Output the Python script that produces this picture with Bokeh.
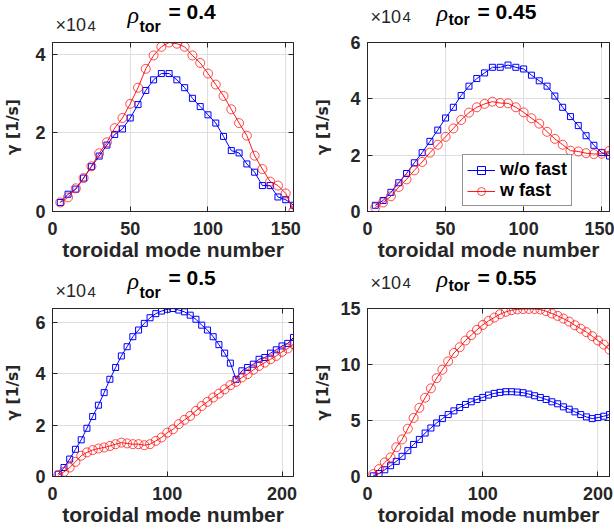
from bokeh.plotting import figure
from bokeh.models import Range1d, FixedTicker, LinearAxis, Label, Legend, LegendItem
from bokeh.layouts import row, column
from bokeh.embed import file_html
from bokeh.resources import INLINE

# toroidal mode numbers
n_top = [5, 10, 15, 20, 25, 30, 35, 40, 45, 50, 55, 60, 65, 70, 75, 80, 85, 90, 95, 100,
         105, 110, 115, 120, 125, 130, 135, 140, 145, 150, 155]
n_bot = [5, 10, 15, 20, 25, 30, 35, 40, 45, 50, 55, 60, 65, 70, 75, 80, 85, 90, 95, 100,
         105, 110, 115, 120, 125, 130, 135, 140, 145, 150, 155, 160, 165, 170, 175, 180,
         185, 190, 195, 200, 205, 210]

# growth rates in units of 1e4 1/s
g04_wo = [0.23, 0.44, 0.57, 0.85, 1.14, 1.41, 1.69, 1.96, 2.10, 2.38, 2.72, 3.08, 3.35, 3.51,
          3.51, 3.35, 3.15, 2.88, 2.67, 2.46, 2.25, 1.91, 1.55, 1.49, 1.21, 1.00, 0.66, 0.66,
          0.37, 0.30, 0.16]
g04_w = [0.23, 0.36, 0.59, 0.85, 1.15, 1.48, 1.76, 2.12, 2.38, 2.74, 3.15, 3.63, 3.97, 4.19,
         4.30, 4.27, 4.19, 3.97, 3.78, 3.51, 3.23, 2.94, 2.60, 2.25, 1.93, 1.42, 1.08, 0.76,
         0.66, 0.46, 0.02]
g045_wo = [0.22, 0.39, 0.68, 1.02, 1.35, 1.73, 2.09, 2.49, 2.89, 3.32, 3.70, 4.12, 4.45, 4.72,
           4.92, 5.12, 5.12, 5.20, 5.12, 5.06, 4.84, 4.64, 4.45, 4.10, 3.70, 3.37, 3.05, 2.69,
           2.35, 2.09, 1.97]
g045_w = [0.14, 0.32, 0.54, 0.87, 1.14, 1.46, 1.76, 2.09, 2.37, 2.65, 2.95, 3.25, 3.51, 3.70,
          3.82, 3.90, 3.85, 3.84, 3.70, 3.52, 3.31, 3.12, 2.83, 2.58, 2.37, 2.16, 2.13, 2.07,
          2.04, 2.05, 2.15]
g05_wo = [0.09, 0.35, 0.68, 1.06, 1.43, 1.88, 2.34, 2.78, 3.27, 3.79, 4.25, 4.70, 5.06, 5.45,
          5.71, 5.97, 6.19, 6.35, 6.45, 6.52, 6.55, 6.49, 6.42, 6.29, 6.13, 5.90, 5.71, 5.45,
          5.14, 4.81, 4.42, 3.79, 4.12, 4.25, 4.38, 4.57, 4.64, 4.81, 4.94, 5.09, 5.19, 5.42]
g05_w = [0.05, 0.18, 0.35, 0.57, 0.81, 0.94, 1.03, 1.09, 1.13, 1.19, 1.26, 1.32, 1.29, 1.26,
         1.26, 1.22, 1.26, 1.39, 1.52, 1.71, 1.84, 2.04, 2.21, 2.36, 2.56, 2.75, 2.91, 3.08,
         3.23, 3.40, 3.56, 3.69, 3.86, 3.99, 4.16, 4.31, 4.44, 4.57, 4.70, 4.86, 4.99, 5.16]
g055_wo = [0.06, 0.27, 0.60, 0.96, 1.35, 1.80, 2.31, 2.86, 3.31, 3.88, 4.33, 4.78, 5.17, 5.53,
           5.86, 6.16, 6.43, 6.67, 6.88, 7.06, 7.27, 7.42, 7.51, 7.57, 7.57, 7.54, 7.48, 7.36,
           7.21, 7.06, 6.88, 6.67, 6.49, 6.22, 6.01, 5.77, 5.53, 5.32, 5.17, 5.26, 5.38, 5.53]
g055_w = [0.21, 0.66, 1.26, 1.71, 2.61, 3.31, 4.27, 5.23, 6.13, 7.03, 7.87, 8.78, 9.53, 10.28,
          11.03, 11.54, 12.14, 12.62, 13.10, 13.53, 13.89, 14.19, 14.49, 14.70, 14.85, 14.92,
          14.95, 14.96, 14.95, 14.91, 14.76, 14.55, 14.34, 14.10, 13.83, 13.50, 13.20, 12.89,
          12.53, 12.14, 11.78, 11.33]

x_ticks_top = [0, 50, 100, 150]
x_ticks_bot = [0, 100, 200]
y_ticks_04 = [0, 2, 4]
y_ticks_045 = [0, 2, 4, 6]
y_ticks_05 = [0, 2, 4, 6]
y_ticks_055 = [0, 5, 10, 15]

rho_labels = ["0.4", "0.45", "0.5", "0.55"]
series_names = ["w/o fast", "w fast"]
x_title = "toroidal mode number"
y_title = "γ [1/s]"

FONT = "Liberation Sans"
AX = "#262626"
BLUE = "#0000ff"
RED = "#ff0000"
QW = 307          # quadrant width

# header text baselines (px above the frame top): rho, "tor", "= ..", "x10", "4"
BASE_LEFT = (15, 8, 20, 7.5, 11.5)
BASE_RIGHT = (17, 15, 20, 15.5, 20.5)


def header(height, left, right):
    # frame spans the same columns as the plot below; data units == pixels of the quadrant
    f = figure(width=QW, height=height, output_backend="svg", toolbar_location=None,
               x_range=Range1d(left, QW - right), y_range=Range1d(0, height),
               min_border_left=left, min_border_right=right,
               min_border_top=0, min_border_bottom=0,
               x_axis_location=None, y_axis_location=None)
    f.grid.visible = False
    f.outline_line_color = None
    f.background_fill_color = "white"
    f.border_fill_color = "white"
    return f


def style_axis(ax, ticks, standoff):
    ax.ticker = FixedTicker(ticks=ticks)
    ax.major_tick_in = 5
    ax.major_tick_out = 0
    ax.minor_tick_in = 0
    ax.minor_tick_out = 0
    ax.axis_line_color = AX
    ax.major_tick_line_color = AX
    ax.major_label_text_font = FONT
    ax.major_label_text_font_style = "bold"
    ax.major_label_text_font_size = "18px"
    ax.major_label_text_color = AX
    ax.major_label_standoff = standoff


def quadrant(x, wo, w, xmax, ymax, xt, yt, rho, qh, frame_top, left, right, bottom,
             rho_x, pad, bases, ylab_standoff, legend=False):
    head_h = frame_top - pad
    body_h = qh - head_h
    b_rho, b_tor, b_eq, b_x10, b_4 = bases

    h = header(head_h, left, right)
    h.add_layout(Label(x=rho_x, y=b_rho - pad, text="ρ", text_font="Liberation Serif",
                       text_font_style="italic", text_font_size="24px", text_color="black"))
    h.add_layout(Label(x=rho_x + 12, y=b_tor - pad, text="tor", text_font=FONT,
                       text_font_style="bold", text_font_size="16px", text_color="black"))
    h.add_layout(Label(x=rho_x + 41, y=b_eq - pad, text="= " + rho, text_font=FONT,
                       text_font_style="bold", text_font_size="21px", text_color="black"))
    h.add_layout(Label(x=left + 3, y=b_x10 - pad, text="×10", text_font=FONT,
                       text_font_size="18px", text_color=AX))
    h.add_layout(Label(x=left + 35, y=b_4 - pad, text="4", text_font=FONT,
                       text_font_size="15px", text_color=AX))

    p = figure(width=QW, height=body_h, output_backend="svg", toolbar_location=None,
               x_range=Range1d(0, xmax), y_range=Range1d(0, ymax),
               min_border_left=left, min_border_right=right,
               min_border_top=pad, min_border_bottom=bottom,
               x_axis_label=x_title, y_axis_label=y_title)
    p.background_fill_color = "white"
    p.border_fill_color = "white"
    p.outline_line_color = AX
    style_axis(p.xaxis[0], xt, 10)
    style_axis(p.yaxis[0], yt, 7)
    xa = p.xaxis[0]
    xa.axis_label_text_font = FONT
    xa.axis_label_text_font_style = "bold"
    xa.axis_label_text_color = AX
    xa.axis_label_text_font_size = "21px"
    xa.axis_label_standoff = 0
    ya = p.yaxis[0]
    ya.axis_label_text_font = "DejaVu Sans"
    ya.axis_label_text_font_style = "bold"
    ya.axis_label_text_color = AX
    ya.axis_label_text_font_size = "15.5px"
    ya.axis_label_standoff = ylab_standoff

    for loc, ticks in (("right", yt), ("above", xt)):
        a = LinearAxis()
        style_axis(a, ticks, 0)
        a.major_label_overrides = {t: "" for t in ticks}
        a.major_label_text_font_size = "0px"
        p.add_layout(a, loc)

    p.xgrid.ticker = FixedTicker(ticks=xt)
    p.ygrid.ticker = FixedTicker(ticks=yt)
    p.xgrid.grid_line_color = "#dedede"
    p.ygrid.grid_line_color = "#dedede"

    l1 = p.line(x, wo, line_color=BLUE, line_width=1)
    s1 = p.scatter(x, wo, marker="square", size=6, line_color=BLUE, fill_color=None,
                   line_width=1)
    l2 = p.line(x, w, line_color=RED, line_width=1, line_alpha=0.9)
    s2 = p.scatter(x, w, marker="circle", size=9, line_color=RED, fill_color=None,
                   line_width=1, line_alpha=0.7)

    if legend:
        lg = Legend(items=[LegendItem(label=series_names[0], renderers=[l1, s1]),
                           LegendItem(label=series_names[1], renderers=[l2, s2])],
                    location=(95, 5), border_line_color=AX, border_line_width=1,
                    background_fill_color="white", background_fill_alpha=1,
                    label_text_font=FONT, label_text_font_style="bold",
                    label_text_font_size="18px", label_text_color="black",
                    glyph_width=28, glyph_height=20, label_height=20,
                    label_standoff=5, padding=4, spacing=0, margin=0)
        p.add_layout(lg, "center")

    return column(h, p)


q1 = quadrant(n_top, g04_wo, g04_w, 155, 4.3, x_ticks_top, y_ticks_04, rho_labels[0],
              265, 42, 52, 14, 54, 127, 3, BASE_LEFT, 10)
q2 = quadrant(n_top, g045_wo, g045_w, 155, 6, x_ticks_top, y_ticks_045, rho_labels[1],
              265, 42, 60, 5, 54, 129, 11, BASE_RIGHT, 15, legend=True)
q3 = quadrant(n_bot, g05_wo, g05_w, 210, 6.55, x_ticks_bot, y_ticks_05, rho_labels[2],
              266, 43, 52, 14, 55, 127, 3, BASE_LEFT, 10)
q4 = quadrant(n_bot, g055_wo, g055_w, 210, 15, x_ticks_bot, y_ticks_055, rho_labels[3],
              266, 43, 60, 5, 55, 129, 11, BASE_RIGHT, 5)

layout = column(row(q1, q2), row(q3, q4))
open("out.html", "w").write(file_html(layout, INLINE))
